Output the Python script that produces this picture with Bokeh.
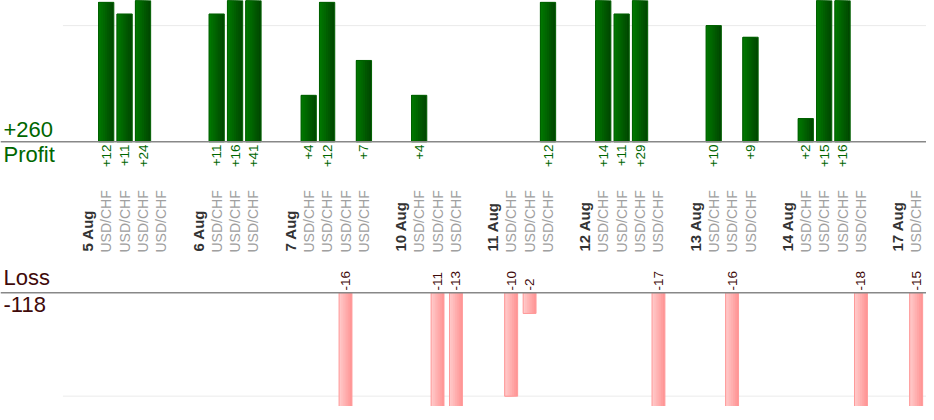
import math
from bokeh.plotting import figure
from bokeh.models import Range1d, ColumnDataSource, Span
from bokeh.core.properties import value
from bokeh.embed import file_html
from bokeh.resources import INLINE

# ---------------- data ----------------
day_labels = ["5 Aug", "6 Aug", "7 Aug", "10 Aug", "11 Aug", "12 Aug", "13 Aug", "14 Aug", "17 Aug"]
trades_per_day = [4, 3, 4, 3, 3, 4, 3, 4, 1]
pair_label = "USD/CHF"
pips = [12, 11, 24, 0,
        11, 16, 41,
        4, 12, -16, 7,
        4, -11, -13,
        -10, -2, 12,
        14, 11, 29, -17,
        10, -16, 9,
        2, 15, 16, -18,
        -15]
profit_grid = [10]
loss_grid = [-10]

# ---------------- slot positions (categorical layout) ----------------
date_x = []
trade_x = []
cursor = 0
for n in trades_per_day:
    date_x.append(cursor)
    trade_x.extend(range(cursor + 1, cursor + 1 + n))
    cursor += n + 2

total_profit = sum(v for v in pips if v > 0)
total_loss = sum(v for v in pips if v < 0)

FONT = value("Liberation Sans")
GREEN = "#006600"
MAROON = "#3f0a0a"

W, H = 926, 406
X0, X1 = -4.741, 45.56
p = figure(width=W, height=H,
           x_range=Range1d(X0, X1), y_range=Range1d(-22.78, 12.16),
           output_backend="svg", toolbar_location=None,
           x_axis_location=None, y_axis_location=None,
           min_border=0, tools="")
p.extra_y_ranges = {"loss": Range1d(-11.0, 28.27)}
p.grid.visible = False
p.outline_line_color = None
p.background_fill_color = "white"
p.border_fill_color = "white"

# light grid lines
GL = -1.35
p.segment(x0=[GL] * len(profit_grid), x1=[X1] * len(profit_grid), y0=profit_grid, y1=profit_grid,
          line_color="#ebebeb", line_width=1, level="underlay")
p.segment(x0=[GL] * len(loss_grid), x1=[X1] * len(loss_grid), y0=loss_grid, y1=loss_grid,
          line_color="#ebebeb", line_width=1, level="underlay", y_range_name="loss")


def grad_bars(xs, tops, width, colors, line_color, range_name):
    n = len(colors)
    for k, c in enumerate(colors):
        frac = (n - k) / n
        src = ColumnDataSource(dict(x=[x - width / 2 + width * frac / 2 for x in xs], top=tops))
        p.vbar(x="x", top="top", bottom=0, width=width * frac, source=src,
               fill_color=c, line_color=None, y_range_name=range_name)
    p.vbar(x=xs, top=tops, bottom=0, width=width, fill_color=None,
           line_color=line_color, line_width=1, y_range_name=range_name)


def shades(c_dark, c_light, n):
    out = []
    for k in range(n):
        t = k / (n - 1)
        rgb = [round(a + (b - a) * t) for a, b in zip(c_dark, c_light)]
        out.append("#%02x%02x%02x" % tuple(rgb))
    return out


prof_x = [x for x, v in zip(trade_x, pips) if v > 0]
prof_v = [v for v in pips if v > 0]
loss_x = [x for x, v in zip(trade_x, pips) if v < 0]
loss_v = [v for v in pips if v < 0]

grad_bars(prof_x, prof_v, 0.83, shades((0, 72, 0), (0, 118, 0), 7), "#006000", "default")
grad_bars(loss_x, loss_v, 0.70, shades((255, 150, 150), (255, 200, 200), 7), "#ff9a9a", "loss")

# baselines
p.add_layout(Span(location=0, dimension="width", line_color="#888888", line_width=1.5))
p.add_layout(Span(location=0, dimension="width", line_color="#888888", line_width=1.5, y_range_name="loss"))

# value labels
p.text(x=prof_x, y=[-0.23] * len(prof_x), text=["+%d" % v for v in prof_v],
       angle=math.pi / 2, text_align="right", text_baseline="middle",
       text_font=FONT, text_font_size="13.5px", text_color=GREEN)
p.text(x=loss_x, y=[0.22] * len(loss_x), text=["%d" % v for v in loss_v],
       angle=math.pi / 2, text_align="left", text_baseline="middle",
       text_font=FONT, text_font_size="13.5px", text_color=MAROON, y_range_name="loss")

# category labels
p.text(x=date_x, y=[-9.45] * len(date_x), text=day_labels,
       angle=math.pi / 2, text_align="left", text_baseline="middle",
       text_font=FONT, text_font_size="15px", text_font_style="bold", text_color="#333333")
p.text(x=trade_x, y=[-9.53] * len(trade_x), text=[pair_label] * len(trade_x),
       angle=math.pi / 2, text_align="left", text_baseline="middle",
       text_font=FONT, text_font_size="14px", text_color="#a0a0a0")

# totals
p.text(x=[-4.58], y=[1.05], text=["+%d" % total_profit], text_align="left", text_baseline="alphabetic",
       text_font=FONT, text_font_size="22px", text_color=GREEN)
p.text(x=[-4.58], y=[-1.10], text=["Profit"], text_align="left", text_baseline="alphabetic",
       text_font=FONT, text_font_size="22px", text_color=GREEN)
p.text(x=[-4.58], y=[1.43], text=["Loss"], text_align="left", text_baseline="alphabetic",
       text_font=FONT, text_font_size="22px", text_color=MAROON, y_range_name="loss")
p.text(x=[-4.58], y=[-1.18], text=["%d" % total_loss], text_align="left", text_baseline="alphabetic",
       text_font=FONT, text_font_size="22px", text_color=MAROON, y_range_name="loss")

open("out.html", "w").write(file_html(p, INLINE))
